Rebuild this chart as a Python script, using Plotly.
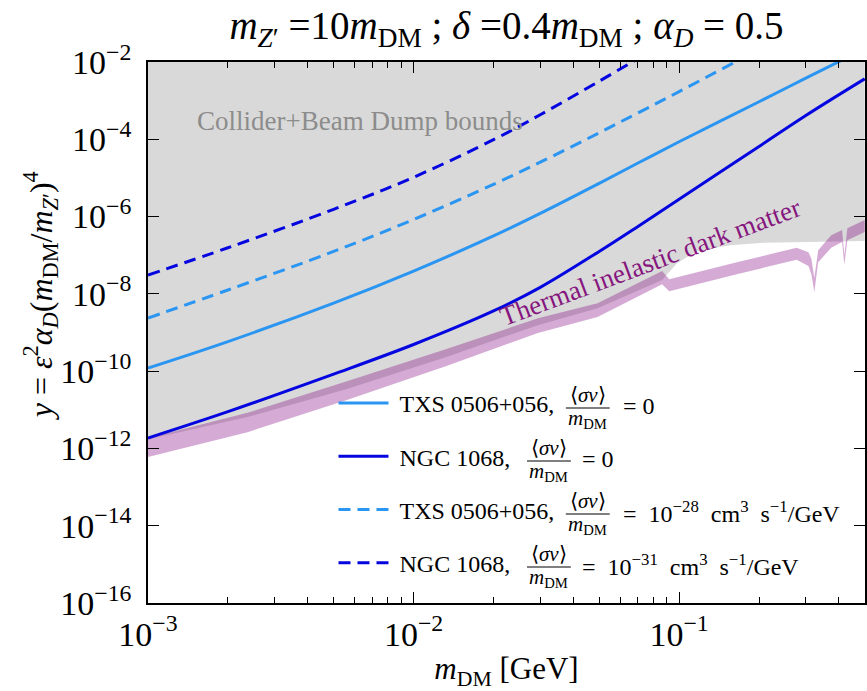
import plotly.graph_objects as go

# ---- limit curves: y = eps^2 alpha_D (m_DM/m_Z')^4 versus m_DM [GeV] ----
m_grid = [1e-3, 2e-3, 5e-3, 1e-2, 2e-2, 3e-2, 5e-2, 7e-2, 1e-1, 2e-1, 3e-1, 5e-1]

y_txs_0 = [1.20e-10, 5.81e-10, 5.75e-9, 3.88e-8, 3.16e-7, 1.21e-6, 7.26e-6,
           2.43e-5, 8.65e-5, 9.38e-4, 3.81e-3, 2.21e-2]
y_ngc_0 = [1.86e-12, 8.95e-12, 8.37e-11, 4.89e-10, 3.61e-9, 1.47e-8, 1.25e-7,
           5.56e-7, 2.80e-6, 6.50e-5, 4.12e-4, 3.66e-3]

m_txs_ann = [1e-3, 2e-3, 5e-3, 1e-2, 2e-2, 3e-2, 5e-2, 7e-2, 1e-1, 2e-1]
y_txs_ann = [2.37e-9, 1.26e-8, 1.25e-7, 8.39e-7, 6.84e-6, 2.55e-5, 1.47e-4,
             4.82e-4, 1.71e-3, 2.14e-2]

m_ngc_ann = [1e-3, 2e-3, 5e-3, 1e-2, 2e-2, 3e-2, 5e-2, 7e-2]
y_ngc_ann = [3.08e-8, 1.56e-7, 1.54e-6, 1.04e-5, 9.75e-5, 4.31e-4, 3.18e-3, 1.22e-2]

# ---- collider + beam dump exclusion (lower edge) ----
m_collider = [1.0e-3, 2.37e-3, 5.61e-3, 1.33e-2, 2.94e-2, 4.93e-2, 8.63e-2,
              9.84e-2, 0.117, 0.155, 0.208, 0.5]
y_collider = [1.74e-12, 6.46e-12, 3.47e-11, 2.34e-10, 1.55e-9, 4.27e-9, 2.29e-8,
              6.31e-8, 1.29e-7, 1.82e-7, 2.09e-7, 2.34e-7]

# ---- thermal inelastic dark matter band ----
m_thermal = [1.0e-3, 2.37e-3, 5.61e-3, 1.33e-2, 2.94e-2, 4.93e-2, 8.63e-2, 9.18e-2,
             0.165, 0.277, 0.307, 0.315, 0.323, 0.334, 0.374, 0.411, 0.419, 0.430, 0.5]
y_thermal_hi = [1.86e-12, 8.32e-12, 5.50e-11, 3.72e-10, 2.34e-9, 5.75e-9, 3.89e-8, 2.40e-8,
                6.61e-8, 1.55e-7, 1.20e-7, 7.94e-8, 2.57e-8, 1.35e-7, 3.31e-7, 4.47e-7,
                1.0e-7, 5.01e-7, 8.13e-7]
y_thermal_lo = [6.03e-13, 2.63e-12, 1.78e-11, 1.35e-10, 9.77e-10, 2.51e-9, 1.78e-8, 1.17e-8,
                3.24e-8, 7.59e-8, 5.25e-8, 3.16e-8, 1.12e-8, 6.61e-8, 1.55e-7, 2.19e-7,
                5.62e-8, 2.45e-7, 3.98e-7]

# ---- axes ----
X_RANGE = [-3, -0.3]
Y_RANGE = [-16, -2]
x_ticks = [1e-3, 1e-2, 1e-1]
x_ticktext = ["10<sup>−3</sup>", "10<sup>−2</sup>", "10<sup>−1</sup>"]
x_minor = [k * d for d in (1e-3, 1e-2, 1e-1) for k in range(2, 10) if k * d <= 0.5]
y_ticks = [1e-16, 1e-14, 1e-12, 1e-10, 1e-8, 1e-6, 1e-4, 1e-2]
y_ticktext = ["10<sup>−16</sup>", "10<sup>−14</sup>", "10<sup>−12</sup>", "10<sup>−10</sup>",
              "10<sup>−8</sup>", "10<sup>−6</sup>", "10<sup>−4</sup>", "10<sup>−2</sup>"]

SERIF = "Liberation Serif"
LIGHT = "#2b95f2"
DARK = "#0505e0"
NBSP = "\u00a0"

W, H = 867, 691
ML, MR, MT, MB = 148, 0, 62, 88

fig = go.Figure()

# collider + beam dump excluded region (filled up to the top of the plot)
y_top = 10 ** Y_RANGE[1]
fig.add_trace(go.Scatter(
    x=m_collider + [m_collider[-1], m_collider[0]],
    y=y_collider + [y_top, y_top],
    fill="toself", fillcolor="#d9d9d9", line=dict(width=0),
    mode="lines", showlegend=False, hoverinfo="skip"))

# thermal relic band
fig.add_trace(go.Scatter(
    x=m_thermal + m_thermal[::-1],
    y=y_thermal_hi + y_thermal_lo[::-1],
    fill="toself", fillcolor="rgba(128,0,128,0.33)", line=dict(width=0),
    mode="lines", showlegend=False, hoverinfo="skip"))

curves = [
    ("TXS 0506+056,", m_grid, y_txs_0, LIGHT, "solid"),
    ("NGC 1068,", m_grid, y_ngc_0, DARK, "solid"),
    ("TXS 0506+056,", m_txs_ann, y_txs_ann, LIGHT, "12px,7px"),
    ("NGC 1068,", m_ngc_ann, y_ngc_ann, DARK, "12px,7px"),
]
for i, (name, xs, ys, col, dash) in enumerate(curves):
    fig.add_trace(go.Scatter(
        x=xs, y=ys, mode="lines", name=NBSP + name, legendgroup=f"g{i}",
        line=dict(color=col, width=3, dash=dash, shape="spline", smoothing=1.0)))


def px_x(p):
    return (p - ML) / (W - ML - MR)


def px_y(p):
    return (H - MB - p) / (H - MT - MB)


annotations = [
    dict(text="Collider+Beam Dump bounds", x=px_x(361), y=px_y(121),
         font=dict(family=SERIF, size=27, color="#8c8c8c")),
    dict(text="Thermal inelastic dark matter", x=px_x(652), y=px_y(262),
         textangle=-20.5, font=dict(family=SERIF, size=27, color="#86157e")),
    # y-axis title
    dict(text="<i>y</i> = <i>ε</i><sup>2</sup><i>α</i><sub><i>D</i></sub>"
              "(<i>m</i><sub>DM</sub>/<i>m</i><sub><i>Z</i>′</sub>)<sup>4</sup>",
         x=px_x(40), y=px_y(296), textangle=-90,
         font=dict(family=SERIF, size=32, color="black")),
]

# stacked <sigma v>/m_DM fractions next to the legend names
units = (NBSP + NBSP + "cm<sup>3</sup>" + NBSP + NBSP + "s<sup>−1</sup>" + "/GeV")
rows = [
    (403, 589, 622, "=" + NBSP + "0"),
    (456, 550, 581, "=" + NBSP + "0"),
    (509, 589, 622, "=" + NBSP + NBSP + "10<sup>−28</sup>" + units),
    (562, 550, 581, "=" + NBSP + NBSP + "10<sup>−31</sup>" + units),
]
shapes = []
for r, fx, ex, rhs in rows:
    annotations.append(dict(text="⟨<i>σv</i>⟩", x=px_x(fx), y=px_y(r - 8),
                            font=dict(family=SERIF, size=21, color="black")))
    annotations.append(dict(text="<i>m</i><sub>DM</sub>", x=px_x(fx), y=px_y(r + 16),
                            font=dict(family=SERIF, size=21, color="black")))
    annotations.append(dict(text=rhs, x=px_x(ex), y=px_y(r + 3), xanchor="left",
                            font=dict(family=SERIF, size=24, color="black")))
    shapes.append(dict(type="line", xref="paper", yref="paper",
                       x0=px_x(fx - 22), x1=px_x(fx + 22), y0=px_y(r + 5), y1=px_y(r + 5),
                       line=dict(color="black", width=1.2)))

for a in annotations:
    a.setdefault("xref", "paper")
    a.setdefault("yref", "paper")
    a.setdefault("xanchor", "center")
    a.setdefault("yanchor", "middle")
    a.setdefault("showarrow", False)

axis_common = dict(
    type="log", showline=True, linecolor="black", linewidth=1.5, mirror="ticks",
    ticks="inside", ticklen=11, tickwidth=1.3, tickcolor="black",
    showgrid=False, zeroline=False,
    tickfont=dict(family=SERIF, size=34, color="black"),
)

fig.update_layout(
    width=W, height=H,
    margin=dict(l=ML, r=MR, t=MT, b=MB),
    paper_bgcolor="white", plot_bgcolor="white",
    title=dict(
        text="<i>m</i><sub><i>Z</i>′</sub> =10<i>m</i><sub>DM</sub> ; <i>δ</i> =0.4<i>m</i><sub>DM</sub> ; "
             "<i>α</i><sub><i>D</i></sub> = 0.5",
        x=0.5, xref="paper", xanchor="center", y=1 - 25 / H, yanchor="middle",
        font=dict(family=SERIF, size=39, color="black")),
    xaxis=dict(**axis_common, range=X_RANGE, tickmode="array", tickvals=x_ticks,
               ticktext=x_ticktext,
               minor=dict(tickmode="array", tickvals=x_minor, ticks="inside", ticklen=6,
                          tickwidth=1.1, tickcolor="black", showgrid=False),
               title=dict(text="<i>m</i><sub>DM</sub> [GeV]", standoff=11,
                          font=dict(family=SERIF, size=31, color="black"))),
    yaxis=dict(**axis_common, range=Y_RANGE, tickmode="array", tickvals=y_ticks,
               ticktext=y_ticktext, ticklabelstandoff=8),
    legend=dict(x=px_x(334), y=px_y(381), xanchor="left", yanchor="top",
                bgcolor="rgba(0,0,0,0)", traceorder="grouped", tracegroupgap=19,
                itemwidth=50,
                font=dict(family=SERIF, size=24, color="black")),
    annotations=annotations,
    shapes=shapes,
)

fig.write_html("out.html")
